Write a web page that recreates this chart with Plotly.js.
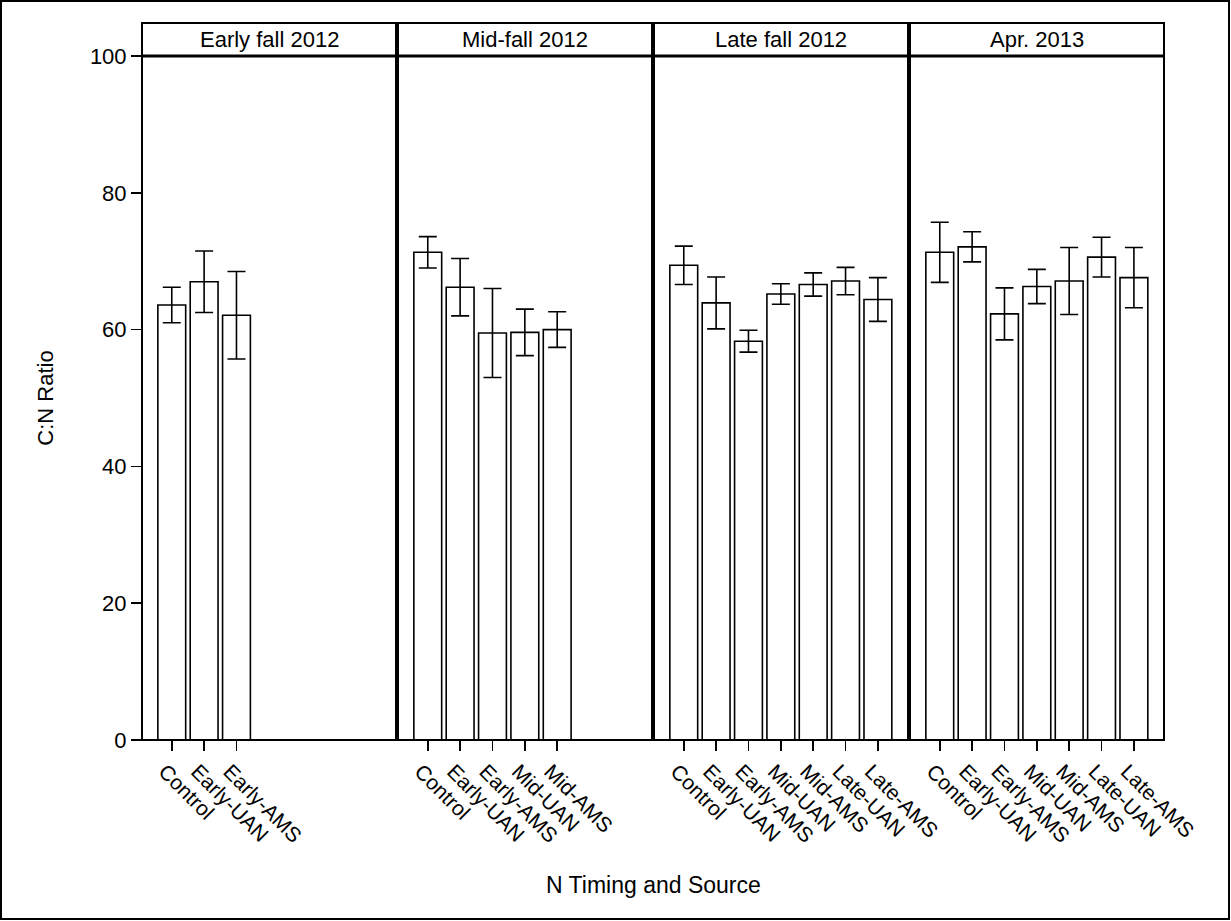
<!DOCTYPE html>
<html>
<head>
<meta charset="utf-8">
<script src="https://cdn.plot.ly/plotly-3.0.1.min.js"></script>
<style>
  html, body { margin: 0; padding: 0; background: #fff; }
  #chart { width: 1231px; height: 921px; }
</style>
</head>
<body>
<div id="chart"></div>
<script>
// Sampling dates (one panel each)
const panelTitles = ["Early fall 2012", "Mid-fall 2012", "Late fall 2012", "Apr. 2013"];

// Treatments present in each panel
const cats1 = ["Control", "Early-UAN", "Early-AMS"];
const cats2 = ["Control", "Early-UAN", "Early-AMS", "Mid-UAN", "Mid-AMS"];
const cats3 = ["Control", "Early-UAN", "Early-AMS", "Mid-UAN", "Mid-AMS", "Late-UAN", "Late-AMS"];
const cats4 = ["Control", "Early-UAN", "Early-AMS", "Mid-UAN", "Mid-AMS", "Late-UAN", "Late-AMS"];

// Mean C:N ratio per treatment
const cn1 = [63.6, 67.0, 62.1];
const cn2 = [71.3, 66.2, 59.5, 59.6, 60.0];
const cn3 = [69.4, 63.9, 58.3, 65.2, 66.6, 67.1, 64.4];
const cn4 = [71.3, 72.1, 62.3, 66.3, 67.1, 70.6, 67.6];

// Standard error (half-length of the error bar)
const se1 = [2.6, 4.5, 6.4];
const se2 = [2.3, 4.2, 6.5, 3.4, 2.6];
const se3 = [2.8, 3.8, 1.6, 1.5, 1.7, 2.0, 3.2];
const se4 = [4.4, 2.2, 3.8, 2.5, 4.9, 2.9, 4.4];

const cats = [cats1, cats2, cats3, cats4];
const means = [cn1, cn2, cn3, cn4];
const errs = [se1, se2, se3, se4];

const FONT = "Liberation Sans, Arial, Helvetica, sans-serif";
const plotW = 1231 - 142 - 67;      // plot area width in px
const plotH = 921 - 56 - 181;       // plot area height in px
const gapPx = 2;
const panelPx = (plotW - 3 * gapPx) / 4;

function domainOf(i) {
  const a = i * (panelPx + gapPx);
  return [a / plotW, (a + panelPx) / plotW];
}

const traces = [];
const layout = {
  width: 1231,
  height: 921,
  margin: { l: 142, r: 67, t: 56, b: 181 },
  paper_bgcolor: "#ffffff",
  plot_bgcolor: "#ffffff",
  showlegend: false,
  font: { family: FONT, color: "#000", size: 20 },
  bargap: 0,
  yaxis: {
    range: [0, 100],
    tickvals: [0, 20, 40, 60, 80, 100],
    ticks: "outside",
    ticklen: 10,
    tickwidth: 1.5,
    tickcolor: "#000",
    showgrid: false,
    zeroline: false,
    showline: false,
    tickfont: { family: FONT, size: 22, color: "#000" },
    title: { text: "C:N Ratio", font: { family: FONT, size: 22, color: "#000" }, standoff: 30 },
    fixedrange: true
  },
  shapes: [],
  annotations: []
};

for (let i = 0; i < 4; i++) {
  const ax = i === 0 ? "x" : "x" + (i + 1);
  traces.push({
    type: "bar",
    x: cats[i],
    y: means[i],
    xaxis: ax,
    yaxis: "y",
    width: 0.86,
    marker: { color: "#ffffff", line: { color: "#000", width: 1.6 } },
    error_y: { type: "data", array: errs[i], visible: true, color: "#000", thickness: 1.6, width: 9 },
    hoverinfo: "x+y"
  });

  const dom = domainOf(i);
  layout[i === 0 ? "xaxis" : "xaxis" + (i + 1)] = {
    domain: dom,
    anchor: "y",
    type: "category",
    categoryorder: "array",
    categoryarray: cats[i],
    range: [-0.92, 6.93],
    ticks: "outside",
    ticklen: 10,
    tickwidth: 1.5,
    tickcolor: "#000",
    tickangle: 45,
    ticklabelshift: -7,
    showgrid: false,
    zeroline: false,
    showline: false,
    tickfont: { family: FONT, size: 21, color: "#000" },
    fixedrange: true
  };

  // panel frame
  layout.shapes.push({
    type: "rect", xref: "paper", yref: "paper",
    x0: dom[0], x1: dom[1], y0: 0, y1: 1,
    line: { color: "#000", width: 2 }, fillcolor: "rgba(0,0,0,0)"
  });
  // header strip
  layout.shapes.push({
    type: "rect", xref: "paper", yref: "paper",
    x0: dom[0], x1: dom[1], y0: 1, y1: 1 + 33 / plotH,
    line: { color: "#000", width: 2 }, fillcolor: "#ffffff"
  });
  layout.annotations.push({
    xref: "paper", yref: "paper",
    x: (dom[0] + dom[1]) / 2, y: 1 + 16.5 / plotH,
    xanchor: "center", yanchor: "middle",
    text: panelTitles[i], showarrow: false,
    font: { family: FONT, size: 22, color: "#000" }
  });
}

// thicker line under the header strips
layout.shapes.push({
  type: "line", xref: "paper", yref: "paper",
  x0: 0, x1: 1, y0: 1, y1: 1,
  line: { color: "#000", width: 3 }
});

// figure border
layout.shapes.push({
  type: "rect", xref: "paper", yref: "paper",
  x0: -141 / plotW, x1: (1229 - 142) / plotW,
  y0: -(919 - 740) / plotH, y1: (740 - 1) / plotH,
  line: { color: "#000", width: 2 }, fillcolor: "rgba(0,0,0,0)"
});

// x-axis title shared by all panels
layout.annotations.push({
  xref: "paper", yref: "paper",
  x: 0.5, y: -(885 - 740) / plotH,
  xanchor: "center", yanchor: "middle",
  text: "N Timing and Source", showarrow: false,
  font: { family: FONT, size: 23, color: "#000" }
});

Plotly.newPlot("chart", traces, layout, { displayModeBar: false, staticPlot: true });
</script>
</body>
</html>
